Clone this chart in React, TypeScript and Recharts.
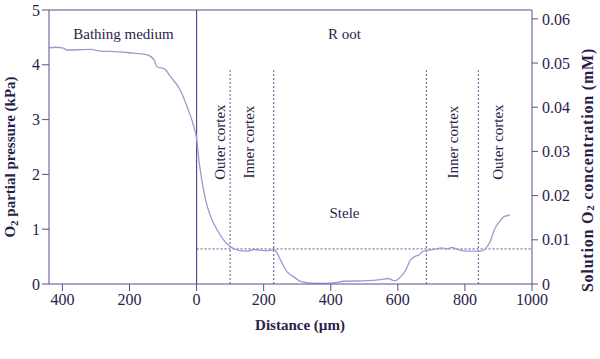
import React from 'react';
import {
  ComposedChart,
  Line,
  XAxis,
  YAxis,
  ReferenceLine,
  ReferenceDot,
  Label,
} from 'recharts';

// distance from root surface (µm), negative = bathing medium
const distance = [
  -440, -420, -400, -386, -316, -286, -246, -200, -147, -127, -117, -97, -77, -48, -28, -8,
  0, 7, 15, 27, 42, 62, 81, 101, 131, 151, 171, 211, 231, 250, 270, 290, 310, 360, 409,
  439, 509, 548, 573, 583, 593, 608, 623, 638, 653, 663, 673, 686, 717, 732, 747, 762,
  777, 807, 847, 862, 877, 887, 902, 917, 935,
];
const pressure = [
  4.31, 4.32, 4.31, 4.27, 4.28, 4.25, 4.24, 4.22, 4.18, 4.09, 3.96, 3.93, 3.78, 3.53, 3.23, 2.87,
  2.66, 2.26, 1.92, 1.53, 1.23, 0.98, 0.8, 0.68, 0.61, 0.6, 0.63, 0.61, 0.63, 0.44, 0.22, 0.13, 0.05, 0.01, 0.02,
  0.05, 0.06, 0.08, 0.1, 0.07, 0.06, 0.13, 0.25, 0.44, 0.51, 0.53, 0.59, 0.61, 0.64, 0.66, 0.64, 0.67,
  0.63, 0.6, 0.6, 0.65, 0.8, 0.98, 1.13, 1.23, 1.26,
];

const xTicks = [-400, -200, 0, 200, 400, 600, 800, 1000];
const leftTicks = [0, 1, 2, 3, 4, 5];
const rightTicks = [0, 0.01, 0.02, 0.03, 0.04, 0.05, 0.06];

// tissue boundaries (µm) and the level of the dashed guide
const boundaries = [100, 230, 685, 840];
const boundaryTop = 3.9;
const guideLevel = 0.64;

const flatLabels = [
  { text: 'Bathing medium', x: -218, y: 4.57 },
  { text: 'R oot', x: 441, y: 4.57 },
  { text: 'Stele', x: 441, y: 1.29 },
];
const zoneLabels = [
  { text: 'Outer cortex', x: 69, y: 2.59 },
  { text: 'Inner cortex', x: 155, y: 2.59 },
  { text: 'Inner cortex', x: 763, y: 2.59 },
  { text: 'Outer cortex', x: 900, y: 2.59 },
];

const data = distance.map((d, i) => ({ d, p: pressure[i] }));

const AXIS = '#5e4b93';
const INK = '#2b1d4a';
const TRACE = '#a596cf';
const FONT = '"Liberation Serif", "Times New Roman", serif';

const tickStyle = { fill: INK, fontSize: 16, fontFamily: FONT };

const flatText = (text: string) => (props: any) => {
  const { x, y, width, height } = props.viewBox;
  return (
    <text x={x + width / 2} y={y + height / 2} textAnchor="middle" dominantBaseline="central"
      fill={INK} fontSize={15} fontFamily={FONT}>{text}</text>
  );
};

const rotText = (text: string) => (props: any) => {
  const { x, y, width, height } = props.viewBox;
  const cx = x + width / 2;
  const cy = y + height / 2;
  return (
    <text x={cx} y={cy} transform={`rotate(-90 ${cx} ${cy})`} textAnchor="middle"
      dominantBaseline="central" fill={INK} fontSize={15} fontFamily={FONT}>{text}</text>
  );
};

const LeftTitle = () => (
  <text x={10} y={157} transform="rotate(-90 10 157)" textAnchor="middle" dominantBaseline="central"
    fill={INK} fontSize={15} fontWeight="bold" fontFamily={FONT}>
    O<tspan dy={4} fontSize={11}>2</tspan><tspan dy={-4}> partial pressure (kPa)</tspan>
  </text>
);

const RightTitle = () => (
  <text x={587} y={170} transform="rotate(-90 587 170)" textAnchor="middle" dominantBaseline="central"
    fill={INK} fontSize={16} fontWeight="bold" fontFamily={FONT} letterSpacing={0.8}>
    Solution O<tspan dy={3} fontSize={11}>2</tspan><tspan dy={-3}> concentration (mM)</tspan>
  </text>
);

export default function App() {
  return (
    <div style={{ position: 'absolute', left: 0, top: 0, background: '#fff' }}>
      <ComposedChart width={600} height={359} data={data}
        margin={{ top: 10, right: 0, bottom: 0, left: 0 }}>
        <XAxis dataKey="d" type="number" domain={[-440, 1000]} ticks={xTicks} allowDataOverflow
          tickFormatter={(v: number) => String(Math.abs(v))} stroke={AXIS} tick={tickStyle}
          tickSize={7} tickMargin={3} height={75}>
          <Label content={() => (
            <text x={300} y={325} textAnchor="middle" dominantBaseline="central" fill={INK}
              fontSize={15} fontWeight="bold" fontFamily={FONT}>Distance (µm)</text>
          )} />
        </XAxis>
        <YAxis yAxisId="left" domain={[0, 5]} ticks={leftTicks} allowDataOverflow stroke={AXIS}
          tick={tickStyle} tickSize={7} tickMargin={2} width={49}>
          <Label content={() => <LeftTitle />} />
        </YAxis>
        <YAxis yAxisId="right" orientation="right" domain={[0, 0.062]} ticks={rightTicks} allowDataOverflow
          stroke={AXIS} tick={tickStyle} tickSize={6} tickMargin={4} width={68}
          tickFormatter={(v: number) => (v === 0 ? '0' : v.toFixed(2))}>
          <Label content={() => <RightTitle />} />
        </YAxis>

        <ReferenceLine yAxisId="left" y={5} stroke={AXIS} strokeWidth={1} />
        <ReferenceLine yAxisId="left" x={0} stroke={AXIS} strokeWidth={1.2} />
        {boundaries.map((b) => (
          <ReferenceLine key={b} yAxisId="left" segment={[{ x: b, y: 0 }, { x: b, y: boundaryTop }]}
            stroke={AXIS} strokeDasharray="2 2" strokeWidth={1} />
        ))}
        <ReferenceLine yAxisId="left" segment={[{ x: 0, y: guideLevel }, { x: 1000, y: guideLevel }]}
          stroke={AXIS} strokeDasharray="2 2" strokeWidth={1} />

        {flatLabels.map((l, i) => (
          <ReferenceDot key={'f' + i} yAxisId="left" x={l.x} y={l.y} r={1} fill="none" stroke="none"
            label={flatText(l.text)} />
        ))}
        {zoneLabels.map((l, i) => (
          <ReferenceDot key={'z' + i} yAxisId="left" x={l.x} y={l.y} r={1} fill="none" stroke="none"
            label={rotText(l.text)} />
        ))}

        <Line yAxisId="left" dataKey="p" type="monotone" stroke={TRACE} strokeWidth={1.3} dot={false}
          isAnimationActive={false} />
      </ComposedChart>
    </div>
  );
}
